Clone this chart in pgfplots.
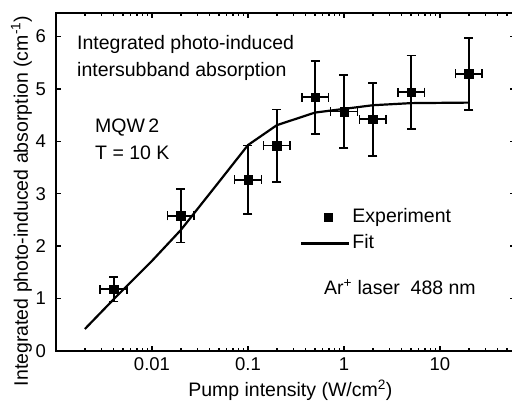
\documentclass[border=0pt]{standalone}
\usepackage{fontspec}
\setmainfont{Liberation Sans}
\usepackage{pgfplots}
\pgfplotsset{compat=1.18}
\usepackage{pgfplotstable}

\pgfplotstableread{
x y ey xp xm
0.004 1.18 0.235 0.00152 0.0011
0.02 2.58 0.51 0.0076 0.0055
0.1 3.27 0.65 0.038 0.0275
0.2 3.92 0.69 0.076 0.055
0.5 4.84 0.70 0.19 0.1375
1 4.57 0.70 0.38 0.275
2 4.42 0.70 0.76 0.55
5 4.94 0.70 1.9 1.375
20 5.29 0.69 7.6 5.5
}\expdata

\pgfplotstableread{
x y
0.002 0.42
0.004 0.99
0.01 1.72
0.02 2.31
0.05 3.23
0.1 3.93
0.2 4.31
0.5 4.55
1 4.62
2 4.69
5 4.73
20 4.74
}\fitdata

\pgfplotsset{
  fitlegend/.style={legend image code/.code={\draw[##1] (0pt,0pt) -- (48pt,0pt);}},
  explegend/.style={legend image code/.code={\path[draw=none] (0pt,0pt) (48pt,0pt);\draw[##1] plot coordinates {(27pt,0pt)};}},
}

\begin{document}
\begin{tikzpicture}
\begin{axis}[
  xmode=log, scale only axis, width=458.7pt, height=338pt,
  xmin=0.001, xmax=60, ymin=0, ymax=6.45,
  axis line style={line width=2.4pt},
  tick style={line width=1.4pt, black},
  major tick length=5pt, minor tick length=3pt,
  xtick={0.01,0.1,1,10}, xticklabels={0.01,0.1,1,10},
  minor xtick={0.002,0.003,0.004,0.005,0.006,0.007,0.008,0.009,
               0.02,0.03,0.04,0.05,0.06,0.07,0.08,0.09,
               0.2,0.3,0.4,0.5,0.6,0.7,0.8,0.9,
               2,3,4,5,6,7,8,9,20,30,40,50},
  ytick={0,1,2,3,4,5,6},
  /pgf/number format/assume math mode=true,
  ticklabel style={font=\fontsize{18.5}{21}\selectfont},
  xticklabel style={anchor=base, yshift=-19.7pt},
  yticklabel style={anchor=east, inner sep=0pt, xshift=-10pt},
  xlabel={Pump intensity (W/cm\textsuperscript{2})},
  label style={font=\fontsize{19.5}{22}\selectfont},
  xlabel style={at={(axis description cs:0.511,0)}, anchor=base, yshift=-45.7pt},
  legend style={at={(axis description cs:0.532,0.429)}, anchor=north west,
    draw=none, fill=none, inner sep=0pt, row sep=4.3pt,
    font=\fontsize{19.5}{22}\selectfont,
    nodes={inner sep=2pt, text height=14pt, text depth=4pt}},
  legend cell align=left,
]
\addplot[only marks, mark=square*, mark size=4.2pt, black, explegend,
  error bars/.cd, x dir=both, x explicit, y dir=both, y explicit,
  error mark options={rotate=90, line width=1.8pt, mark size=4.5pt},
  error bar style={line width=1.8pt}]
  table[x=x, y=y, x error plus=xp, x error minus=xm, y error=ey]{\expdata};
\addlegendentry{Experiment}
\addplot[black, line width=2.2pt, no markers, fitlegend]
  table[x=x, y=y]{\fitdata};
\addlegendentry{Fit}
\end{axis}
\begin{scope}[font=\fontsize{19.5}{22}\selectfont]
\node[anchor=base west, inner sep=0pt] at (21pt,301pt) {Integrated photo-induced};
\node[anchor=base west, inner sep=0pt] at (21pt,274pt) {intersubband absorption};
\node[anchor=base west, inner sep=0pt] at (39pt,218pt) {MQW\,2};
\node[anchor=base west, inner sep=0pt] at (39pt,191pt) {T = 10 K};
\node[anchor=base west, inner sep=0pt] at (268pt,56pt) {Ar\textsuperscript{+} laser\ \ 488 nm};
\node[anchor=base, rotate=90, inner sep=0pt] at (-28pt,150pt) {Integrated photo-induced absorption (cm\textsuperscript{-1})};
\end{scope}
\pgfresetboundingbox
\path (-56pt,-55pt) rectangle (456pt,351pt);
\end{tikzpicture}
\end{document}
